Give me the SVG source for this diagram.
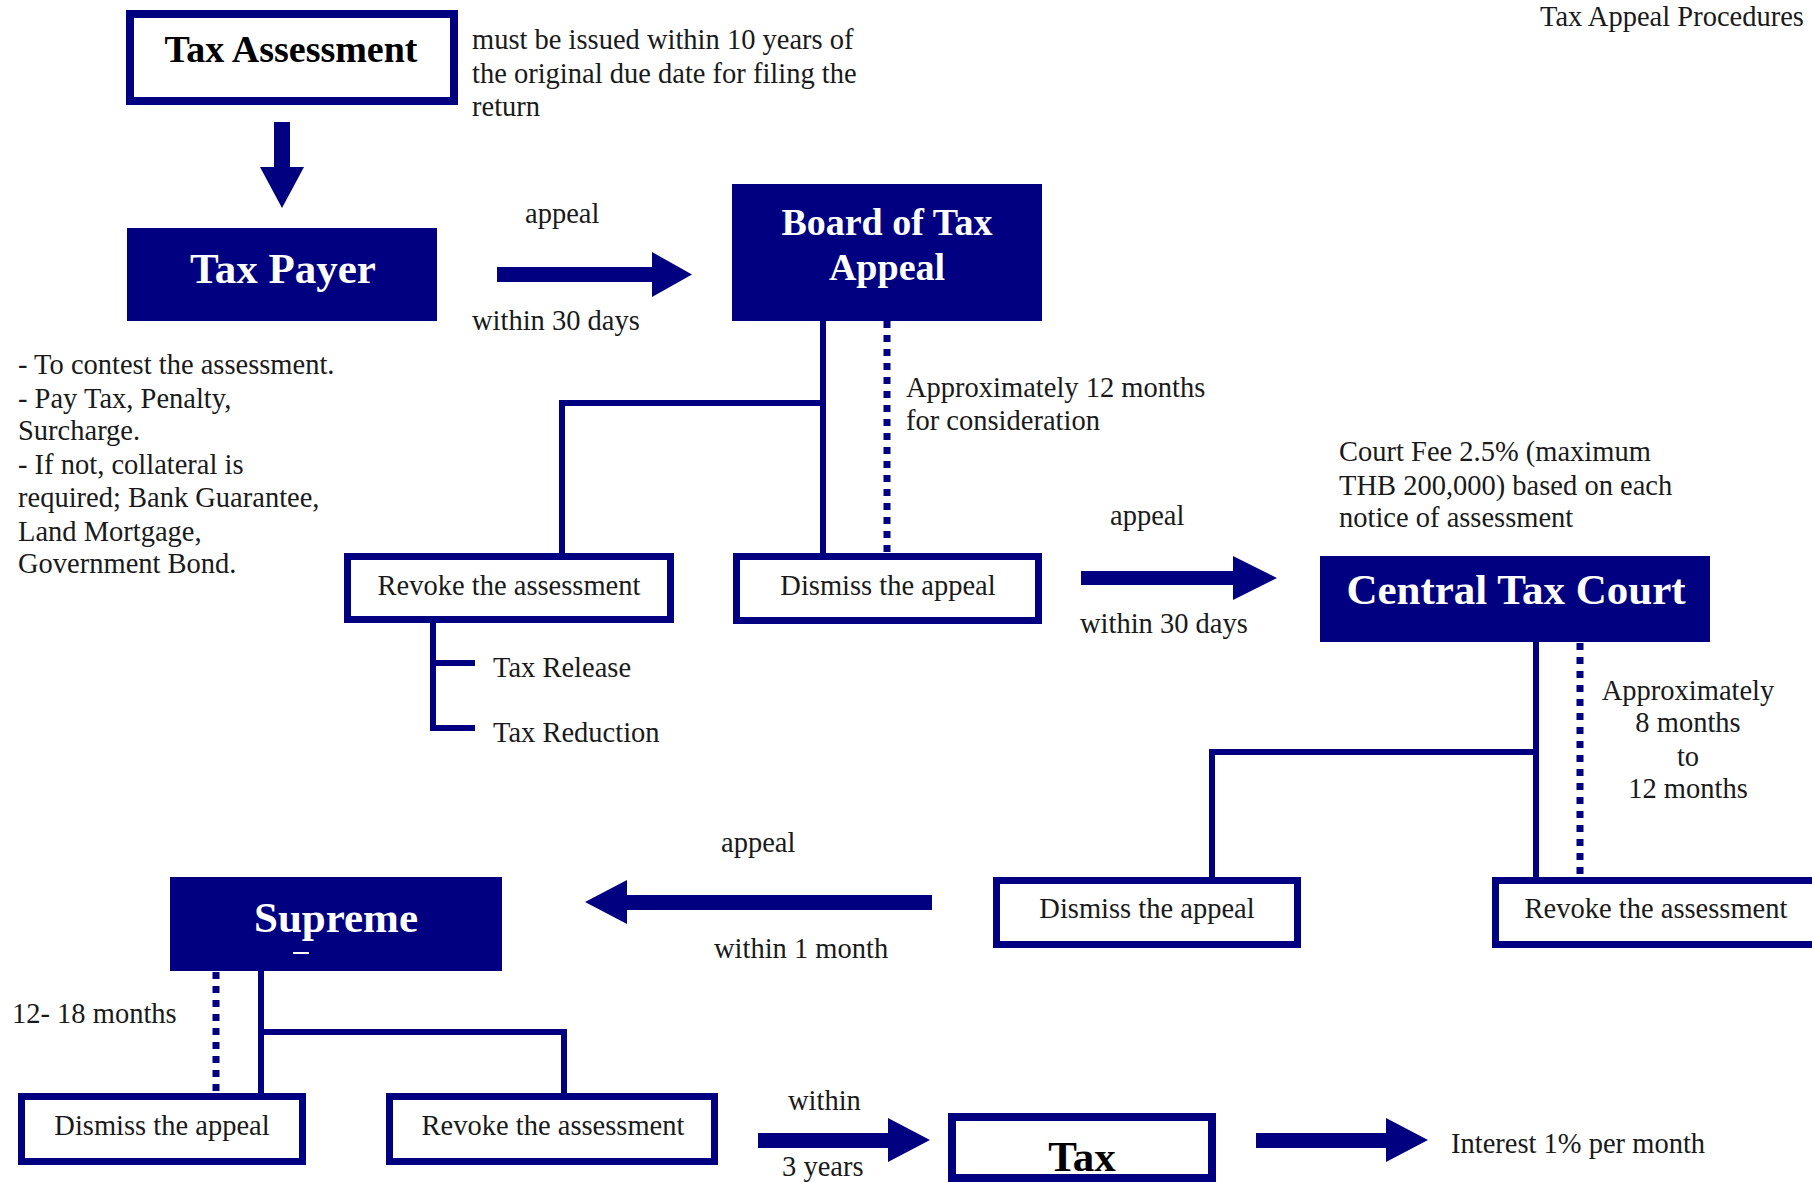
<svg xmlns="http://www.w3.org/2000/svg" width="1812" height="1182" viewBox="0 0 1812 1182">
<style>
  .t { font-family: "Liberation Serif", "Times New Roman", serif; font-size: 28.5px; fill: #1a1a1a; }
  .c { text-anchor: middle; }
  .hw { font-family: "Liberation Serif", "Times New Roman", serif; font-weight: bold; fill: #ffffff; text-anchor: middle; }
  .hb { font-family: "Liberation Serif", "Times New Roman", serif; font-weight: bold; fill: #000000; text-anchor: middle; }
  .fill { fill: #000080; }
  .box { fill: #ffffff; stroke: #000080; stroke-width: 7; }
  .ln { fill: none; stroke: #000080; stroke-width: 6; stroke-linejoin: miter; stroke-linecap: butt; }
  .dot { fill: none; stroke: #000080; stroke-width: 7; stroke-dasharray: 7 7; }
  .arr { fill: #000080; }
</style>
<rect width="1812" height="1182" fill="#ffffff"/>

<g id="connectors">
  <polygon class="arr" points="274,122 290,122 290,167 304,167 282,208 260,167 274,167"/>
  <polygon class="arr" points="497,267 652,267 652,252 692,274.5 652,297 652,282 497,282"/>
  <path class="ln" d="M823,320 V556 M823,403 H562 V556"/>
  <line class="dot" x1="887" y1="321" x2="887" y2="556"/>
  <path class="ln" d="M433,623 V728 H475 M433,663 H475"/>
  <polygon class="arr" points="1081,571 1233,571 1233,556 1277,578 1233,600 1233,585 1081,585"/>
  <path class="ln" d="M1536,642 V880 M1536,752 H1212 V880"/>
  <line class="dot" x1="1580" y1="643" x2="1580" y2="880"/>
  <polygon class="arr" points="932,895 627,895 627,880 585,902 627,924 627,910 932,910"/>
  <path class="ln" d="M261,971 V1096 M261,1032 H564 V1096"/>
  <line class="dot" x1="216" y1="972" x2="216" y2="1096"/>
  <polygon class="arr" points="758,1133 888,1133 888,1118 930,1140 888,1162 888,1148 758,1148"/>
  <polygon class="arr" points="1256,1133 1386,1133 1386,1118 1428,1140 1386,1162 1386,1148 1256,1148"/>
</g>

<g id="tax-assessment">
  <rect x="130" y="14" width="324" height="87" fill="#ffffff" stroke="#000080" stroke-width="8"/>
  <text class="hb" x="291" y="62" font-size="38">Tax Assessment</text>
</g>

<g id="tax-payer">
  <rect class="fill" x="127" y="228" width="310" height="93"/>
  <text class="hw" x="283" y="283" font-size="43">Tax Payer</text>
</g>

<g id="board-of-tax-appeal">
  <rect class="fill" x="732" y="184" width="310" height="137"/>
  <text class="hw" x="887" y="235" font-size="38">Board of Tax</text>
  <text class="hw" x="887" y="280" font-size="38">Appeal</text>
</g>

<g id="revoke-1">
  <rect class="box" x="347.5" y="556.5" width="323" height="63"/>
  <text class="t c" x="509" y="595">Revoke the assessment</text>
</g>

<g id="dismiss-1">
  <rect class="box" x="736.5" y="556.5" width="302" height="64"/>
  <text class="t c" x="888" y="595">Dismiss the appeal</text>
</g>

<g id="central-tax-court">
  <rect class="fill" x="1320" y="556" width="390" height="86"/>
  <text class="hw" x="1516" y="604" font-size="43">Central Tax Court</text>
</g>

<g id="dismiss-2">
  <rect class="box" x="996.5" y="880.5" width="301" height="64"/>
  <text class="t c" x="1147" y="918">Dismiss the appeal</text>
</g>

<g id="revoke-2">
  <rect class="box" x="1495.5" y="880.5" width="330" height="64"/>
  <text class="t c" x="1656" y="918">Revoke the assessment</text>
</g>

<g id="supreme">
  <rect class="fill" x="170" y="877" width="332" height="94"/>
  <text class="hw" x="336" y="932" font-size="43">Supreme</text>
  <rect x="293" y="952" width="16" height="2" fill="#ffffff"/>
</g>

<g id="dismiss-3">
  <rect class="box" x="21.5" y="1096.5" width="281" height="65"/>
  <text class="t c" x="162" y="1135">Dismiss the appeal</text>
</g>

<g id="revoke-3">
  <rect class="box" x="389.5" y="1096.5" width="325" height="65"/>
  <text class="t c" x="553" y="1135">Revoke the assessment</text>
</g>

<g id="tax">
  <rect x="952" y="1117" width="260" height="61" fill="#ffffff" stroke="#000080" stroke-width="8"/>
  <text class="hb" x="1082" y="1171" font-size="43">Tax</text>
</g>

<g id="labels">
  <text class="t" x="1540" y="26">Tax Appeal Procedures</text>
  <text class="t" x="472" y="49">must be issued within 10 years of</text>
  <text class="t" x="472" y="83">the original due date for filing the</text>
  <text class="t" x="472" y="116">return</text>
  <text class="t" x="525" y="223">appeal</text>
  <text class="t" x="472" y="330">within 30 days</text>
  <text class="t" x="18" y="374">- To contest the assessment.</text>
  <text class="t" x="18" y="408">- Pay Tax, Penalty,</text>
  <text class="t" x="18" y="440">Surcharge.</text>
  <text class="t" x="18" y="474">- If not, collateral is</text>
  <text class="t" x="18" y="507">required; Bank Guarantee,</text>
  <text class="t" x="18" y="541">Land Mortgage,</text>
  <text class="t" x="18" y="573">Government Bond.</text>
  <text class="t" x="906" y="397">Approximately 12 months</text>
  <text class="t" x="906" y="430">for consideration</text>
  <text class="t" x="493" y="677">Tax Release</text>
  <text class="t" x="493" y="742">Tax Reduction</text>
  <text class="t" x="1110" y="525">appeal</text>
  <text class="t" x="1080" y="633">within 30 days</text>
  <text class="t" x="1339" y="461">Court Fee 2.5% (maximum</text>
  <text class="t" x="1339" y="495">THB 200,000) based on each</text>
  <text class="t" x="1339" y="527">notice of assessment</text>
  <text class="t c" x="1688" y="700">Approximately</text>
  <text class="t c" x="1688" y="732">8 months</text>
  <text class="t c" x="1688" y="766">to</text>
  <text class="t c" x="1688" y="798">12 months</text>
  <text class="t" x="721" y="852">appeal</text>
  <text class="t" x="714" y="958">within 1 month</text>
  <text class="t" x="12" y="1023">12- 18 months</text>
  <text class="t" x="788" y="1110">within</text>
  <text class="t" x="782" y="1176">3 years</text>
  <text class="t" x="1451" y="1153">Interest 1% per month</text>
</g>
</svg>
